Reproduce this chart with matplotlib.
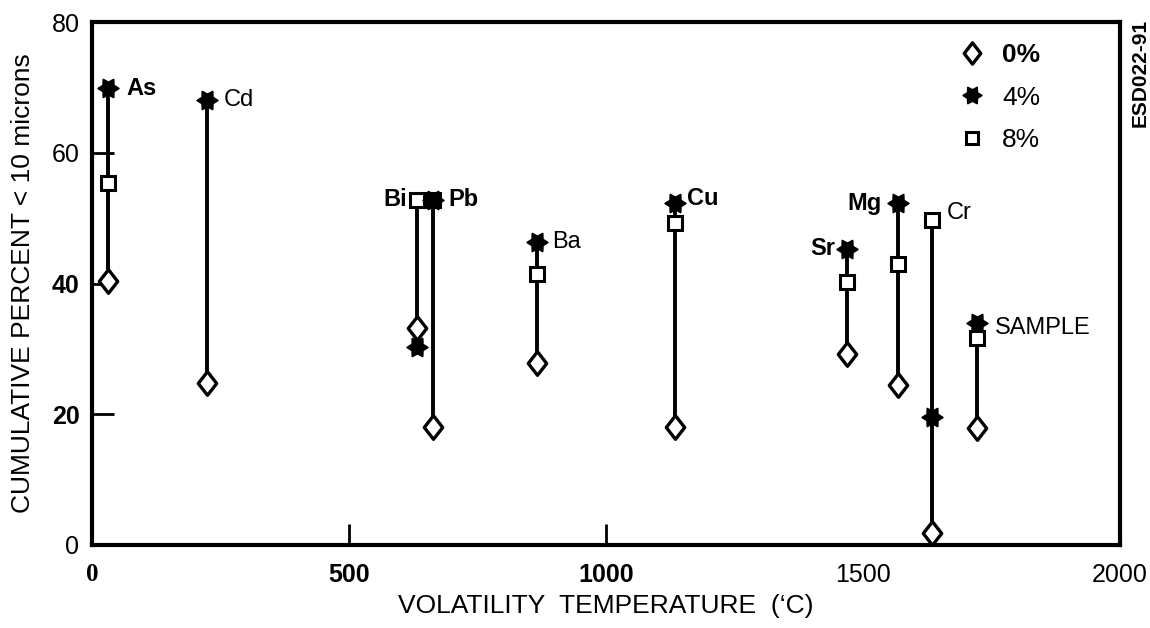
import numpy as np
import matplotlib
matplotlib.use("Agg")
import matplotlib.pyplot as plt
from matplotlib.path import Path

# ---------------- data ----------------
elements = ["As", "Cd", "Bi", "Pb", "Ba", "Cu", "Sr", "Mg", "Cr", "SAMPLE"]
volatility_temp = [31, 224, 632, 663, 866, 1134, 1469, 1568, 1634, 1722]
pct_0 = [40.4, 24.8, 33.2, 18.0, 27.8, 18.0, 29.2, 24.5, 1.8, 17.9]
pct_4 = [69.9, 68.0, 30.3, 52.8, 46.3, 52.3, 45.3, 52.3, 19.6, 33.9]
pct_8 = [55.4, np.nan, 52.8, 52.8, 41.4, 49.2, 40.2, 43.0, 49.7, 31.6]

legend_labels = ["0%", "4%", "8%"]
x_tick_values = [0, 500, 1000, 1500, 2000]
x_tick_labels = ["0", "500", "1000", "1500", "2000"]
y_tick_values = [0, 20, 40, 60, 80]
y_tick_labels = ["0", "20", "40", "60", "80"]

# ---------------- styles ----------------
plt.rcParams["font.family"] = ["Liberation Sans", "DejaVu Sans"]

# label style per element: (ha, dx pt, dy pt, bold)
label_style = [
    ("left", 13, 0, True),
    ("left", 12, 0, False),
    ("right", -7, 0, True),
    ("left", 11, 0, True),
    ("left", 11, 0, False),
    ("left", 9, 3.5, True),
    ("right", -8.5, 0, True),
    ("right", -11.5, 0, True),
    ("left", 11, 5, False),
    ("left", 13, -3, False),
]

diamond = Path([(0, 1), (0.78, 0), (0, -1), (-0.78, 0), (0, 1)],
               [Path.MOVETO, Path.LINETO, Path.LINETO, Path.LINETO, Path.CLOSEPOLY])
ang = np.deg2rad(np.arange(0, 360, 30))
rad = np.array([1.0 if i % 2 == 0 else 0.6 for i in range(12)])
sv = list(zip(rad * np.cos(ang), rad * np.sin(ang)))
sv.append(sv[0])
star = Path(sv, [Path.MOVETO] + [Path.LINETO] * 11 + [Path.CLOSEPOLY])

fig = plt.figure(figsize=(11.5, 6.28), dpi=100)
ax = fig.add_axes([92 / 1150, 1 - 545 / 628, (1120 - 92) / 1150, (545 - 22) / 628])

x = np.array(volatility_temp, dtype=float)
y0 = np.array(pct_0, dtype=float)
y4 = np.array(pct_4, dtype=float)
y8 = np.array(pct_8, dtype=float)
ytop = np.nanmax(np.vstack([y4, y8]), axis=0)

ax.vlines(x, y0, ytop, color="black", lw=2.8, zorder=2)
ax.plot(x, y8, ls="none", marker="s", ms=10, mfc="white", mec="black", mew=2.2,
        zorder=3, label=legend_labels[2])
ax.plot(x, y0, ls="none", marker=diamond, ms=17, mfc="white", mec="black", mew=2.4,
        zorder=3, label=legend_labels[0])
ax.plot(x, y4, ls="none", marker=star, ms=15, mfc="black", mec="black", mew=1.2,
        zorder=4, label=legend_labels[1])

for name, xi, yi, (ha, dx, dy, bold) in zip(elements, x, ytop, label_style):
    ax.annotate(name, (xi, yi), xytext=(dx, dy), textcoords="offset points",
                ha=ha, va="center", fontsize=17,
                fontweight="bold" if bold else "normal")

ax.set_xlim(0, 2000)
ax.set_ylim(0, 80)

for s in ax.spines.values():
    s.set_linewidth(3)

ax.xaxis.remove_overlapping_locs = False
ax.set_xticks(x_tick_values, x_tick_labels)
ax.tick_params(axis="x", which="major", length=0, pad=13, labelsize=18)
ax.set_xticks([500, 1000], minor=True)
ax.tick_params(axis="x", which="minor", direction="in", length=15, width=2)
ax.set_yticks(y_tick_values, y_tick_labels)
ax.tick_params(axis="y", which="major", direction="in", length=16, width=2,
               pad=9, labelsize=18)

xl = ax.get_xticklabels()
xl[0].set_fontfamily(["Liberation Serif"])
xl[0].set_fontweight("bold")
xl[1].set_fontweight("bold")
xl[2].set_fontweight("bold")
yl = ax.get_yticklabels()
yl[1].set_fontweight("bold")
yl[2].set_fontweight("bold")

ax.set_xlabel("VOLATILITY  TEMPERATURE  (\u2018C)", fontsize=19, va="center")
ax.xaxis.set_label_coords(0.5, -0.117)
ax.set_ylabel("CUMULATIVE PERCENT < 10 microns", fontsize=19, va="center")
ax.yaxis.set_label_coords(-0.067, 0.5)

handles, labels = ax.get_legend_handles_labels()
order = [labels.index(l) for l in legend_labels]
leg = ax.legend([handles[i] for i in order], [labels[i] for i in order],
                loc="upper left", bbox_to_anchor=(0.830, 0.985), frameon=False,
                fontsize=19, borderpad=0, handlelength=1.0, handletextpad=0.65,
                labelspacing=0.7, markerscale=0.9)
leg.get_texts()[0].set_fontweight("bold")

fig.text(1140 / 1150, 1 - 73 / 628, "ESD022-91", rotation=90, ha="center",
         va="center", fontsize=15, fontweight="bold")

fig.savefig("out.png", dpi=100)
